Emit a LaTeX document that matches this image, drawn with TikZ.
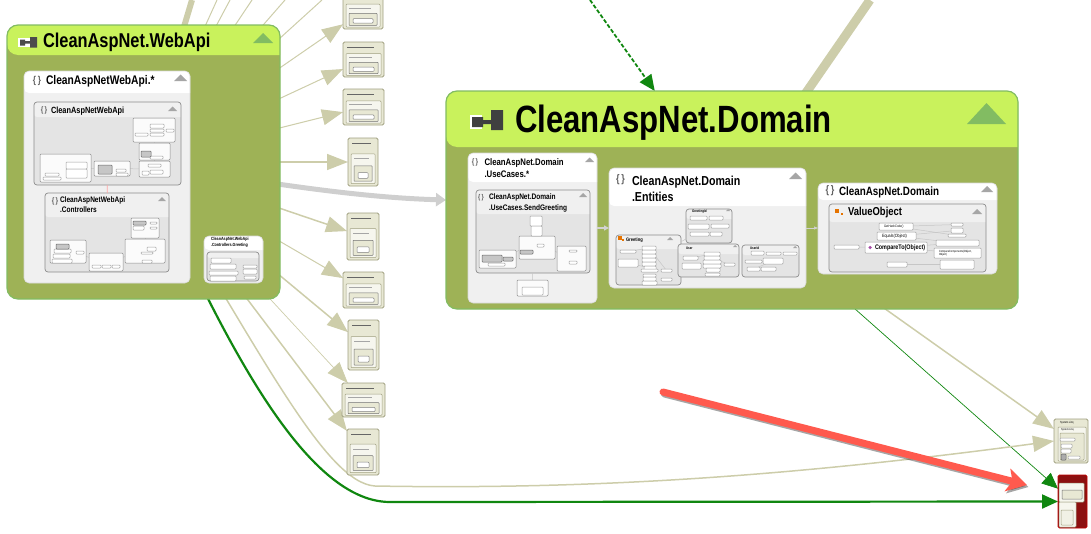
\documentclass[tikz,border=0pt]{standalone}
\usepackage{fontspec}
\setmainfont[FakeStretch=0.82]{Liberation Sans}
\usetikzlibrary{arrows.meta}
\usetikzlibrary{positioning}
\pgfdeclarelayer{edgelayer}
\pgfdeclarelayer{nodelayer}
\pgfdeclarelayer{linklayer}
\pgfdeclarelayer{leaflayer}
\pgfsetlayers{edgelayer,nodelayer,linklayer,leaflayer,main}
\definecolor{olive}{RGB}{205,205,170}
\definecolor{moss}{RGB}{158,178,86}
\definecolor{lime}{RGB}{201,242,92}
\definecolor{rim}{RGB}{130,188,98}
\definecolor{paleGray}{RGB}{240,240,240}
\definecolor{midGray}{RGB}{228,228,228}
\definecolor{ruleGray}{RGB}{140,140,140}
\definecolor{creamy}{RGB}{232,232,212}
\definecolor{creamEdge}{RGB}{160,160,128}
\definecolor{darkGreen}{RGB}{16,135,16}
\definecolor{callout}{RGB}{255,90,78}
\definecolor{maroon}{RGB}{140,16,16}
\tikzset{
	head/.style 2 args={path picture={\fill[#2] (path picture bounding box.north west) rectangle ++(1200,#1);}}
}
\tikzstyle{box}=[anchor=north west,inner sep=0pt,outer sep=0pt]
\tikzstyle{none}=[inner sep=0pt,outer sep=0pt]
\tikzstyle{assembly}=[box,draw=rim,line width=1.2pt,fill=moss,rounded corners=11pt]
\tikzstyle{nsbox}=[box,draw=white!85!black,line width=0.6pt,fill=paleGray,rounded corners=5pt]
\tikzstyle{typebox}=[box,draw=ruleGray,line width=0.7pt,fill=midGray,rounded corners=3pt]
\tikzstyle{leaf}=[box,draw=ruleGray!80,line width=0.5pt,fill=white,rounded corners=0.8pt,font=\fontsize{2.6}{3}\selectfont]
\tikzstyle{minibox}=[box,draw=ruleGray,line width=0.5pt,fill=white!97!gray,rounded corners=1pt]
\tikzstyle{darkleaf}=[leaf,fill=gray!65,draw=black!60]
\tikzstyle{card}=[box,draw=creamEdge,line width=0.8pt,fill=creamy,rounded corners=1.5pt]
\tikzstyle{cardin}=[box,draw=creamEdge,line width=0.5pt,fill=white!60!creamy,rounded corners=0.8pt]
\tikzstyle{cardcore}=[box,draw=black!55,line width=0.5pt,fill=creamy,rounded corners=0.5pt]
\tikzstyle{edge}=[draw=olive,-{Triangle[length=21pt,width=16pt]}]
\tikzstyle{greenedge}=[draw=darkGreen,-{Triangle[length=16pt,width=14pt]}]
\tikzstyle{link}=[draw=gray!45,line width=0.5pt]
\tikzstyle{collapse}=[fill=gray!70]
\tikzstyle{brace}=[none,text=gray!75!black,font=\bfseries\fontsize{11}{12}\selectfont]
\tikzstyle{nslabel}=[none,anchor=west,align=left,font=\bfseries\fontsize{12}{15.5}\selectfont]
\begin{document}
\begin{tikzpicture}[x=1pt,y=-1pt]
	\useasboundingbox (0,0) rectangle (1091,533);
	\begin{pgfonlayer}{nodelayer}
		% the two assemblies
		\node [style=assembly,head={30}{lime},minimum width=273,minimum height=274] (webapi) at (7,25) {};
		\node [style=assembly,head={56}{lime},minimum width=572,minimum height=218] (domain) at (446,91) {};
		% namespaces
		\node [style=nsbox,head={22}{white},minimum width=166,minimum height=212] (apins) at (24,71) {};
		\node [style=typebox,head={15}{paleGray},minimum width=147,minimum height=83] (rootns) at (34,102) {};
		\node [style=typebox,head={24}{paleGray},minimum width=124,minimum height=79] (ctrlns) at (45,193) {};
		\node [style=nsbox,head={14}{white},minimum width=59,minimum height=47] (greetns) at (204,236) {};
		\node [style=typebox,head={6}{paleGray},minimum width=52,minimum height=29] (greetctl) at (207,252) {};
		\node [style=nsbox,head={29}{white},minimum width=129,minimum height=150] (usecases) at (468,153) {};
		\node [style=typebox,head={24}{paleGray},minimum width=114,minimum height=83] (sendgreet) at (476,190) {};
		\node [style=nsbox,head={38}{white},minimum width=197,minimum height=120] (entities) at (609,168) {};
		\node [style=typebox,head={14}{paleGray},minimum width=65,minimum height=50] (greeting) at (616,235) {};
		\node [style=typebox,head={10}{paleGray},minimum width=46,minimum height=34] (greetid) at (686,209) {};
		\node [style=typebox,head={10}{paleGray},minimum width=61,minimum height=33] (user) at (678,244) {};
		\node [style=typebox,head={10}{paleGray},minimum width=57,minimum height=32] (userid) at (742,245) {};
		\node [style=nsbox,head={17}{white},minimum width=179,minimum height=91] (domainns) at (818,183) {};
		\node [style=typebox,head={18}{paleGray},minimum width=157,minimum height=68] (valueobj) at (829,204) {};
		% the outside packages
		\foreach \n/\x/\y/\w/\h in {1/343/-8/40/37,2/343/42/41/35,3/343/89/41/36,4/348/138/30/48,5/347/213/32/47,6/343/272/41/36,7/348/320/31/50,8/342/383/43/34,9/347/429/32/46}{
			\node [style=card,minimum width=\w,minimum height=\h] (card\n) at (\x,\y) {};
			\node [style=cardin,minimum width=\w-6,minimum height=\h*0.62] (cardin\n) at (\x+3,\y+\h*0.33) {};
			\node [style=cardcore,minimum width=\w-12,minimum height=\h*0.32] (cardcore\n) at (\x+6,\y+\h*0.58) {};
			\node [style=cardin,fill=white,draw=black!50,minimum width=\w-20,minimum height=\h*0.12] (cardleaf\n) at (\x+10,\y+\h*0.72) {};
			\draw [gray!80!black,line width=0.8pt] (\x+4,\y+5) -- (\x+\w*0.75,\y+5);
			\draw [gray!70,line width=0.5pt] (\x+6,\y+\h*0.43) -- (\x+\w*0.7,\y+\h*0.43);
		}
		\node [style=card,minimum width=34,minimum height=44] (linq) at (1054,419) {};
		\node [style=cardin,minimum width=28,minimum height=34] (linqin) at (1058,427) {};
		\node [style=cardin,fill=creamy,minimum width=24,minimum height=27] (linqcore) at (1060,433) {};
		\node [style=card,draw=red!75!black,fill=maroon,minimum width=29,minimum height=53] (redcard) at (1058,475) {};
		\node [style=cardin,minimum width=25,minimum height=19] (redin) at (1059,483) {};
		\node [style=cardcore,minimum width=20,minimum height=9] (redcore) at (1062,490) {};
		\node [style=cardin,minimum width=17,minimum height=25] (redlow) at (1059,502) {};
		\node [style=cardin,fill=white!40!creamy,minimum width=12,minimum height=15] (redlowin) at (1061,510) {};
		% collapse triangles
		\foreach \x/\y/\s in {174/81/13,168/111/9,158/201/8,789/179/13,585/162/9,579/197/8,981/192/12,972/214/10,667/240/6,726/211/4,733/247/4,793/248/4}{
			\fill [style=collapse] (\x,\y) -- ++(\s,0) -- ++(-\s/2,-\s*0.5) -- cycle;
		}
		\fill [rim] (253,43) -- ++(20,0) -- ++(-10,-10) -- cycle;
		\fill [rim] (967,124) -- ++(39,0) -- ++(-19.5,-21) -- cycle;
	\end{pgfonlayer}
	\begin{pgfonlayer}{leaflayer}
		% small boxes of the first assembly
		\foreach \nm/\x/\y/\w/\h in {boxa/133/118/42/24,boxb/139/143/31/17,boxc/139/161/31/16,boxd/94/161/36/15,boxe/40/154/51/28,boxf/131/218/28/20,boxg/125/239/40/24,boxh/50/240/36/23,boxi/89/253/34/18,boxj/479/250/37/18,boxk/519/236/36/23,boxl/557/246/29/25,boxm/517/280/31/16}{
			\node [style=minibox,minimum width=\w,minimum height=\h] (\nm) at (\x,\y) {};
		}
		\foreach \nm/\x/\y/\w/\h in {la/150/124/14/4,lb/150/129/14/3,lc/150/133/14/3,ld/135/133/13/3,le/166/129/8/3,lf/150/156/13/3,lg/148/164/13/3,lh/142/171/7/4,li/150/170/13/4,lj/116/169/10/3,lk/116/173/12/3,ll/66/162/21/7,lm/66/169/21/9,ln/45/173/14/3,lo/43/177/18/3,lp/133/226/11/4,lq/150/222/7/2,lr/150/227/7/2,ls/147/247/9/4,lt/141/252/12/2,lu/142/260/10/3,lv/54/249/17/4,lw/53/254/17/4,lx/52/259/20/4,ly/76/251/8/3,lz/92/265/9/3,ma/102/265/9/3,mb/112/265/8/3,mc/211/258/20/5,md/210/264/26/5,me/209/271/29/4,mf/210/276/26/5,mg/243/265/14/3,mh/243/269/14/5,mi/244/276/12/3,na/530/216/12/10,nb/531/226/11/10,nc/537/244/7/3,nd/569/250/8/2,ne/569/261/8/3,nf/488/263/17/3,ng/522/287/21/8,oa/620/250/16/3,ob/618/259/20/8,oc/642/246/14/4,od/642/250/14/4,oe/642/254/14/4,of/642/258/14/4,og/642/262/14/4,oh/644/266/12/4,oi/641/269/17/3,oj/643/274/13/3,ok/643/277/13/4,ol/642/281/15/4,om/661/269/11/3,on/661/278/11/3,pa/690/216/17/4,pb/709/216/14/4,pc/688/224/21/5,pd/711/224/18/4,pe/690/232/19/4,pf/710/232/12/4,qa/683/256/15/4,qb/682/263/19/6,qc/704/252/16/4,qd/704/256/16/4,qe/703/260/18/4,qf/703/264/18/4,qg/706/268/14/4,qh/705/273/15/3,qi/724/263/11/3,ra/751/251/13/4,rb/766/252/15/3,rc/783/252/14/3,rd/745/260/17/3,re/763/258/20/6,rf/747/267/13/4,rg/761/267/15/4,sa/951/223/12/3,sb/951/228/12/5,sc/948/234/18/3,sd/834/245/25/4,se/887/262/20/5}{
			\node [style=leaf,minimum width=\w,minimum height=\h] (\nm) at (\x,\y) {};
		}
		\foreach \nm/\x/\y/\w/\h in {da/141/151/10/6,db/98/165/14/9,dc/133/221/13/4,dd/56/244/13/5,de/482/255/20/7,df/503/257/10/4,dg/520/250/13/4}{
			\node [style=darkleaf,fill=gray!45,minimum width=\w,minimum height=\h] (\nm) at (\x,\y) {};
		}
		\foreach \nm/\x/\y/\w/\h in {ea/1060/438/15/3,eb/1061/444/11/4,ec/1061/449/10/4,ee/1068/456/12/3}{
			\node [style=leaf,minimum width=\w,minimum height=\h] (\nm) at (\x,\y) {};
		}
		\node [style=darkleaf,minimum width=5,minimum height=6] (ed) at (1061,454) {};
		\node [style=leaf,minimum width=34,minimum height=7] (hashcode) at (879,223) {};
		\node [style=leaf,minimum width=39,minimum height=8] (equals) at (877,232) {};
		\node [style=leaf,minimum width=62,minimum height=11] (compareto) at (865,242) {};
		\node [style=leaf,minimum width=43,minimum height=6] (domainvalues) at (936,240) {};
		\node [style=leaf,minimum width=47,minimum height=10] (components) at (934,248) {};
		\node [style=leaf,minimum width=34,minimum height=9] (operators) at (940,260) {};
		% texts
		\node [style=nslabel,font=\bfseries\fontsize{38}{38}\selectfont] (domaintitle) at (515,123) {CleanAspNet.Domain};
		\node [style=nslabel,font=\bfseries\fontsize{20}{20}\selectfont] (webapititle) at (43,42) {CleanAspNet.WebApi};
		\node [style=nslabel,font=\bfseries\fontsize{12.5}{15}\selectfont] (apinslabel) at (46,81) {CleanAspNetWebApi.*};
		\node [style=nslabel,font=\bfseries\fontsize{9}{10}\selectfont] (rootlabel) at (51,111) {CleanAspNetWebApi};
		\node [style=nslabel,font=\bfseries\fontsize{8}{10}\selectfont] (ctrllabel) at (60,205) {CleanAspNetWebApi\\.Controllers};
		\node [style=nslabel,font=\bfseries\fontsize{4.5}{5.5}\selectfont] (greetlabel) at (211,242.5) {CleanAspNet.WebApi\\.Controllers.Greeting};
		\node [style=nslabel,font=\bfseries\fontsize{9.5}{11.5}\selectfont] (uclabel) at (484.5,168) {CleanAspNet.Domain\\.UseCases.*};
		\node [style=nslabel,font=\bfseries\fontsize{8}{10.5}\selectfont] (sendlabel) at (489,203) {CleanAspNet.Domain\\.UseCases.SendGreeting};
		\node [style=nslabel,font=\bfseries\fontsize{13}{16}\selectfont] (entlabel) at (632,189) {CleanAspNet.Domain\\.Entities};
		\node [style=nslabel,font=\bfseries\fontsize{12}{14}\selectfont] (vnslabel) at (839,192) {CleanAspNet.Domain};
		\node [style=nslabel,font=\bfseries\fontsize{11.5}{14}\selectfont] (volabel) at (848,213) {ValueObject};
		\node [style=nslabel,font=\bfseries\fontsize{5}{6}\selectfont] (greetinglabel) at (626,240) {Greeting};
		\node [style=nslabel,font=\bfseries\fontsize{3.6}{4}\selectfont] (greetidlabel) at (692,212) {GreetingId};
		\node [style=nslabel,font=\bfseries\fontsize{3.6}{4}\selectfont] (userlabel) at (686,248) {User};
		\node [style=nslabel,font=\bfseries\fontsize{3.6}{4}\selectfont] (useridlabel) at (750,248) {UserId};
		\node [style=nslabel,font=\fontsize{3.4}{4}\selectfont] (hashlabel) at (884,226.5) {GetHashCode()};
		\node [style=nslabel,font=\fontsize{4.6}{5}\selectfont] (equalslabel) at (882,236) {Equals(Object)};
		\node [style=nslabel,font=\bfseries\fontsize{6.6}{7}\selectfont] (comparelabel) at (875,247.5) {CompareTo(Object)};
		\node [style=nslabel,font=\fontsize{3}{3.4}\selectfont] (componentslabel) at (939,253) {CompareComponents(Object,\\Object)};
		\node [style=nslabel,font=\fontsize{3}{3}\selectfont] (linqlabel) at (1060,423) {System.Linq};
		\node [style=nslabel,font=\fontsize{2.8}{3}\selectfont] (linqlabeltwo) at (1061,429.5) {System.Linq};
		% braces
		\foreach \nm/\x/\y/\s in {ba/37/81/10,bb/44/110/8,bc/55/201/8,bd/475/162/8,be/481/198/7,bf/620.5/180/11,bg/830/191/11}{
			\node [style=brace,font=\bfseries\fontsize{\s}{\s}\selectfont] (\nm) at (\x,\y) {\{\,\}};
		}
		% module icons
		\fill [white] (18,38) rectangle (37,47);
		\fill [black!70] (20,39.5) rectangle (25,45.5) (25,41) rectangle (30,43.5) (30,37) rectangle (37,47.5);
		\fill [white] (470,115) rectangle (482,129);
		\fill [black!75] (472,117) rectangle (483,127) (483,120) rectangle (492,124) (491,110) rectangle (503,130);
		% class icons
		\foreach \nm/\x/\y in {ca/837/211,cb/620/238}{
			\node [none,fill=orange!90!black,minimum size=3.5] (\nm) at (\x,\y) {};
		}
		\node [none,fill=orange!90!black,minimum size=2.5] (cc) at (842,214) {};
		\node [none,fill=orange!90!black,minimum size=2] (cd) at (623,240) {};
		\node [none,circle,fill=violet!70,minimum size=3.5] (method) at (870,247.5) {};
	\end{pgfonlayer}
	\begin{pgfonlayer}{linklayer}
		\draw[link,draw=red!35,line width=0.8pt] (rootns) to (ctrlns);
		\draw[link] (boxa) to (boxb);
		\draw[link] (boxb) to (boxc);
		\draw[link] (boxd) to (boxc);
		\draw[link] (boxe) to (boxd);
		\draw[link] (boxf) to (boxg);
		\draw[link] (boxh) to (boxi);
		\draw[link] (boxi) to (boxg);
		\draw[link,bend right=15] (nb) to (boxl);
		\draw[link,bend left=15] (nb) to (boxj);
		\draw[link] (nb) to (boxk);
		\draw[link] (sendgreet) to (boxm);
		\draw[link,draw=gray!35,line width=2pt,-{Triangle[length=5pt,width=5pt]}] (usecases.east |- entities.west) to (entities.west);
		\draw[link,draw=gray!35,line width=0.6pt,-{Triangle[length=4pt,width=3pt]}] (entities.east) to (domainns.west |- entities.east);
		\draw[link] (greeting) to (greetid);
		\draw[link] (oa) to (oc);
		\draw[link] (ob) to (oh);
		\draw[link] (oc) to (om);
		\draw[link] (qa) to (qc);
		\draw[link] (qd) to (qi);
		\draw[link] (rd) to (re);
		\draw[link] (rf) to (re);
		\draw[link] (sd) to (compareto);
		\draw[link] (hashcode) to (sa);
		\draw[link] (hashcode) to (sc);
		\draw[link] (equals) to (sb);
		\draw[link] (equals) to (domainvalues);
		\draw[link] (compareto) to (domainvalues);
		\draw[link] (compareto) to (components);
		\draw[link] (se) to (operators);
	\end{pgfonlayer}
	\begin{pgfonlayer}{edgelayer}
		\coordinate (offa) at (192,0);
		\coordinate (offb) at (217,0);
		\coordinate (offc) at (230,0);
		\coordinate (offd) at (252,0);
		\coordinate (offe) at (285,0);
		\coordinate (offf) at (322,0);
		\coordinate (dashstart) at (590,0);
		\coordinate (heavystart) at (870,0);
		\draw[draw=olive,line width=6pt] (webapi.center) to (offa);
		\foreach \off in {offb,offc,offd,offe,offf}{
			\draw[draw=olive,line width=1pt] (webapi.center) to (\off);
		}
		\foreach \n/\lw in {1/1,2/1,3/1,4/1.5,5/1.5,6/1,7/1.5,8/0.7,9/1.5}{
			\draw[style=edge,line width=\lw] (webapi.center) to (card\n);
		}
		\draw[draw=gray!38,line width=5pt,-{Triangle[length=10pt,width=13pt]}] (webapi.center) .. controls (300,190) and (380,198) .. (domain.west);
		\draw[style=greenedge,dash pattern=on 4pt off 2pt,line width=1.8pt] (dashstart) to (domain);
		\draw[draw=olive,line width=9pt] (heavystart) to (domain.center);
		\draw[style=edge,line width=1.5pt] (domain.center) to (linq);
		\draw[style=greenedge,line width=0.7pt] (domain.center) to (redcard);
		\coordinate (linqbend) at (375,486);
		\draw[style=edge,line width=1.5pt] (webapi.center) .. controls (260,350) and (325,483) .. (linqbend) .. controls (600,490) and (800,475) .. (linq.west);
		\draw[style=greenedge,line width=2.2pt] (webapi.center) .. controls (215,320) and (300,502) .. (390,502) -- (redcard.west);
	\end{pgfonlayer}
	% the hand drawn pointer
	\coordinate (pointerstart) at (663,392);
	\coordinate (pointertip) at (1027,485);
	\draw[line width=7pt,line cap=round,draw=black,opacity=0.35,-{Stealth[inset=5pt,length=20pt,width=23pt]},transform canvas={xshift=1.5pt,yshift=-2pt}] (pointerstart) to (pointertip);
	\draw[line width=7pt,line cap=round,draw=callout,-{Stealth[inset=5pt,length=20pt,width=23pt]}] (pointerstart) to (pointertip);
\end{tikzpicture}
\end{document}
